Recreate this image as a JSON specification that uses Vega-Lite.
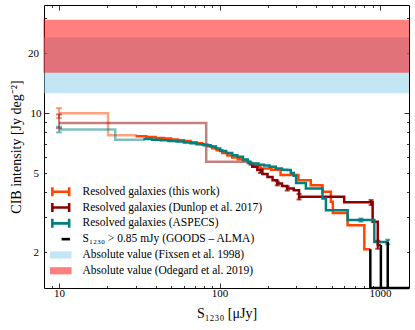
{
  "$schema": "https://vega.github.io/schema/vega-lite/v6.json",
  "width": 365,
  "height": 283,
  "autosize": "none",
  "padding": {"left": 44, "top": 5, "right": 6, "bottom": 42},
  "config": {
    "font": "Liberation Serif",
    "view": {"stroke": "black", "strokeWidth": 1},
    "axis": {
      "domain": false, "grid": false,
      "labelFont": "Liberation Serif", "titleFont": "Liberation Serif",
      "labelFontSize": 11, "titleFontSize": 14, "titleFontWeight": "normal",
      "labelColor": "black", "titleColor": "black", "tickColor": "black", "tickWidth": 0.8,
      "labelOverlap": false, "labelFlush": false
    }
  },
  "datasets": {
    "bands": [
      {"series": "Absolute value (Fixsen et al. 1998)", "lo": 12.6, "hi": 24.1},
      {"series": "Absolute value (Odegard et al. 2019)", "lo": 16.1, "hi": 29.3}
    ],
    "light": [
      {"series": "Resolved galaxies (this work)", "x": 10, "y": 10.0},
      {"series": "Resolved galaxies (this work)", "x": 20.2, "y": 7.74},
      {"series": "Resolved galaxies (this work)", "x": 30, "y": 7.65},
      {"series": "Resolved galaxies (Dunlop et al. 2017)", "x": 10, "y": 8.93},
      {"series": "Resolved galaxies (Dunlop et al. 2017)", "x": 82.6, "y": 5.69},
      {"series": "Resolved galaxies (Dunlop et al. 2017)", "x": 152, "y": 5.54},
      {"series": "Resolved galaxies (ASPECS)", "x": 10, "y": 8.27},
      {"series": "Resolved galaxies (ASPECS)", "x": 22.4, "y": 7.35},
      {"series": "Resolved galaxies (ASPECS)", "x": 33.5, "y": 7.42}
    ],
    "errlight": [
      {"series": "Resolved galaxies (this work)", "x": 10, "lo": 9.45, "hi": 10.6},
      {"series": "Resolved galaxies (Dunlop et al. 2017)", "x": 10, "lo": 8.4, "hi": 9.85},
      {"series": "Resolved galaxies (ASPECS)", "x": 10, "lo": 8.0, "hi": 8.55}
    ],
    "solid": [
      {"series": "Resolved galaxies (this work)", "x": 30, "y": 7.65},
      {"series": "Resolved galaxies (this work)", "x": 35, "y": 7.58},
      {"series": "Resolved galaxies (this work)", "x": 40, "y": 7.5},
      {"series": "Resolved galaxies (this work)", "x": 45, "y": 7.45},
      {"series": "Resolved galaxies (this work)", "x": 50, "y": 7.38},
      {"series": "Resolved galaxies (this work)", "x": 55, "y": 7.3},
      {"series": "Resolved galaxies (this work)", "x": 60, "y": 7.25},
      {"series": "Resolved galaxies (this work)", "x": 66, "y": 7.15},
      {"series": "Resolved galaxies (this work)", "x": 72, "y": 7.05},
      {"series": "Resolved galaxies (this work)", "x": 78, "y": 6.95},
      {"series": "Resolved galaxies (this work)", "x": 84, "y": 6.82},
      {"series": "Resolved galaxies (this work)", "x": 90, "y": 6.66},
      {"series": "Resolved galaxies (this work)", "x": 96, "y": 6.5},
      {"series": "Resolved galaxies (this work)", "x": 104, "y": 6.3},
      {"series": "Resolved galaxies (this work)", "x": 112, "y": 6.12},
      {"series": "Resolved galaxies (this work)", "x": 120, "y": 5.98},
      {"series": "Resolved galaxies (this work)", "x": 130, "y": 5.86},
      {"series": "Resolved galaxies (this work)", "x": 140, "y": 5.76},
      {"series": "Resolved galaxies (this work)", "x": 150, "y": 5.62},
      {"series": "Resolved galaxies (this work)", "x": 160, "y": 5.46},
      {"series": "Resolved galaxies (this work)", "x": 170, "y": 5.36},
      {"series": "Resolved galaxies (this work)", "x": 180, "y": 5.27},
      {"series": "Resolved galaxies (this work)", "x": 210, "y": 5.2},
      {"series": "Resolved galaxies (this work)", "x": 240, "y": 4.88},
      {"series": "Resolved galaxies (this work)", "x": 310, "y": 4.6},
      {"series": "Resolved galaxies (this work)", "x": 370, "y": 4.34},
      {"series": "Resolved galaxies (this work)", "x": 438, "y": 4.02},
      {"series": "Resolved galaxies (this work)", "x": 494, "y": 3.58},
      {"series": "Resolved galaxies (this work)", "x": 508, "y": 3.15},
      {"series": "Resolved galaxies (this work)", "x": 628, "y": 2.73},
      {"series": "Resolved galaxies (this work)", "x": 798, "y": 2.07},
      {"series": "Resolved galaxies (this work)", "x": 870, "y": 2.07},
      {"series": "Resolved galaxies (Dunlop et al. 2017)", "x": 152, "y": 5.54},
      {"series": "Resolved galaxies (Dunlop et al. 2017)", "x": 160, "y": 5.38},
      {"series": "Resolved galaxies (Dunlop et al. 2017)", "x": 172, "y": 5.17},
      {"series": "Resolved galaxies (Dunlop et al. 2017)", "x": 185, "y": 4.95},
      {"series": "Resolved galaxies (Dunlop et al. 2017)", "x": 199, "y": 4.78},
      {"series": "Resolved galaxies (Dunlop et al. 2017)", "x": 214, "y": 4.6},
      {"series": "Resolved galaxies (Dunlop et al. 2017)", "x": 229, "y": 4.43},
      {"series": "Resolved galaxies (Dunlop et al. 2017)", "x": 245, "y": 4.3},
      {"series": "Resolved galaxies (Dunlop et al. 2017)", "x": 264, "y": 4.18},
      {"series": "Resolved galaxies (Dunlop et al. 2017)", "x": 290, "y": 4.1},
      {"series": "Resolved galaxies (Dunlop et al. 2017)", "x": 313, "y": 3.8},
      {"series": "Resolved galaxies (Dunlop et al. 2017)", "x": 598, "y": 3.56},
      {"series": "Resolved galaxies (Dunlop et al. 2017)", "x": 899, "y": 2.84},
      {"series": "Resolved galaxies (Dunlop et al. 2017)", "x": 968, "y": 2.17},
      {"series": "Resolved galaxies (Dunlop et al. 2017)", "x": 1012, "y": 2.17},
      {"series": "Resolved galaxies (ASPECS)", "x": 33.5, "y": 7.42},
      {"series": "Resolved galaxies (ASPECS)", "x": 38, "y": 7.36},
      {"series": "Resolved galaxies (ASPECS)", "x": 43, "y": 7.3},
      {"series": "Resolved galaxies (ASPECS)", "x": 48, "y": 7.25},
      {"series": "Resolved galaxies (ASPECS)", "x": 54, "y": 7.2},
      {"series": "Resolved galaxies (ASPECS)", "x": 60, "y": 7.12},
      {"series": "Resolved galaxies (ASPECS)", "x": 66, "y": 7.05},
      {"series": "Resolved galaxies (ASPECS)", "x": 72, "y": 6.98},
      {"series": "Resolved galaxies (ASPECS)", "x": 80, "y": 6.9},
      {"series": "Resolved galaxies (ASPECS)", "x": 88, "y": 6.8},
      {"series": "Resolved galaxies (ASPECS)", "x": 95, "y": 6.64},
      {"series": "Resolved galaxies (ASPECS)", "x": 101, "y": 6.45},
      {"series": "Resolved galaxies (ASPECS)", "x": 110, "y": 6.3},
      {"series": "Resolved galaxies (ASPECS)", "x": 120, "y": 6.15},
      {"series": "Resolved galaxies (ASPECS)", "x": 129, "y": 6.03},
      {"series": "Resolved galaxies (ASPECS)", "x": 140, "y": 5.85},
      {"series": "Resolved galaxies (ASPECS)", "x": 150, "y": 5.7},
      {"series": "Resolved galaxies (ASPECS)", "x": 156, "y": 5.58},
      {"series": "Resolved galaxies (ASPECS)", "x": 175, "y": 5.5},
      {"series": "Resolved galaxies (ASPECS)", "x": 189, "y": 5.46},
      {"series": "Resolved galaxies (ASPECS)", "x": 205, "y": 5.38},
      {"series": "Resolved galaxies (ASPECS)", "x": 224, "y": 5.27},
      {"series": "Resolved galaxies (ASPECS)", "x": 245, "y": 5.2},
      {"series": "Resolved galaxies (ASPECS)", "x": 264, "y": 5.17},
      {"series": "Resolved galaxies (ASPECS)", "x": 278, "y": 5.0},
      {"series": "Resolved galaxies (ASPECS)", "x": 290, "y": 4.85},
      {"series": "Resolved galaxies (ASPECS)", "x": 300, "y": 4.45},
      {"series": "Resolved galaxies (ASPECS)", "x": 345, "y": 4.18},
      {"series": "Resolved galaxies (ASPECS)", "x": 438, "y": 3.72},
      {"series": "Resolved galaxies (ASPECS)", "x": 460, "y": 3.25},
      {"series": "Resolved galaxies (ASPECS)", "x": 628, "y": 2.9},
      {"series": "Resolved galaxies (ASPECS)", "x": 921, "y": 2.25},
      {"series": "Resolved galaxies (ASPECS)", "x": 1117, "y": 2.25}
    ],
    "errsolid": [
      {"series": "Resolved galaxies (Dunlop et al. 2017)", "x": 180, "lo": 5.0, "hi": 5.2},
      {"series": "Resolved galaxies (Dunlop et al. 2017)", "x": 229, "lo": 4.33, "hi": 4.53},
      {"series": "Resolved galaxies (Dunlop et al. 2017)", "x": 264, "lo": 4.08, "hi": 4.28},
      {"series": "Resolved galaxies (Dunlop et al. 2017)", "x": 313, "lo": 3.68, "hi": 3.92},
      {"series": "Resolved galaxies (Dunlop et al. 2017)", "x": 880, "lo": 3.45, "hi": 3.66},
      {"series": "Resolved galaxies (Dunlop et al. 2017)", "x": 968, "lo": 2.08, "hi": 2.28},
      {"series": "Resolved galaxies (ASPECS)", "x": 760, "lo": 2.85, "hi": 2.95},
      {"series": "Resolved galaxies (ASPECS)", "x": 1117, "lo": 2.19, "hi": 2.31}
    ],
    "black": [
      {"series": "S₁₂₃₀ > 0.85 mJy (GOODS – ALMA)", "x": 870, "x2": 870, "y": 2.07, "y2": 1.32},
      {"series": "S₁₂₃₀ > 0.85 mJy (GOODS – ALMA)", "x": 1012, "x2": 1012, "y": 2.17, "y2": 1.32},
      {"series": "S₁₂₃₀ > 0.85 mJy (GOODS – ALMA)", "x": 1117, "x2": 1117, "y": 2.25, "y2": 1.32},
      {"series": "S₁₂₃₀ > 0.85 mJy (GOODS – ALMA)", "x": 870, "x2": 1515, "y": 1.32, "y2": 1.32}
    ]
  },
  "encoding": {
    "color": {
      "field": "series", "type": "nominal",
      "scale": {
        "domain": ["Resolved galaxies (this work)", "Resolved galaxies (Dunlop et al. 2017)", "Resolved galaxies (ASPECS)", "S₁₂₃₀ > 0.85 mJy (GOODS – ALMA)", "Absolute value (Fixsen et al. 1998)", "Absolute value (Odegard et al. 2019)"],
        "range": ["#ff4500", "#8b0000", "#008080", "#000000", "#87ceeb", "#ff0000"]
      },
      "legend": {
        "orient": "bottom-left", "offset": 11, "padding": 0, "title": null,
        "labelFont": "Liberation Serif", "labelFontSize": 11.5, "labelColor": "black",
        "symbolSize": 256, "labelOffset": 16, "rowPadding": 2.8, "labelLimit": 300,
        "gridAlign": "all",
        "encode": {
          "symbols": {
            "update": {
              "shape": {"signal": "datum.index < 3 ? 'M-1.05,-0.56V0.56M-1.05,0H1.05M1.05,-0.56V0.56' : (datum.index == 3 ? 'M0.1,0H1.15' : 'M-1.35,-0.45H1.35V0.45H-1.35Z')"},
              "stroke": {"signal": "scale('color', datum.value)"},
              "fill": {"signal": "scale('color', datum.value)"},
              "strokeWidth": {"signal": "datum.index < 4 ? 2.6 : 0"},
              "strokeJoin": {"value": "round"},
              "fillOpacity": {"signal": "datum.index < 4 ? 0 : 0.5"},
              "strokeOpacity": {"value": 1},
              "opacity": {"value": 1}
            }
          }
        }
      }
    }
  },
  "layer": [
    {
      "data": {"name": "bands"},
      "mark": {"type": "rect", "opacity": 0.5, "strokeWidth": 1.2},
      "encoding": {
        "y": {"field": "lo", "type": "quantitative", "scale": {"type": "log", "domain": [1.32, 35], "nice": false}, "axis": null},
        "y2": {"field": "hi"},
        "stroke": {"condition": {"test": "datum.series == 'Absolute value (Odegard et al. 2019)'", "value": "#ff0000"}, "value": null}
      }
    },
    {
      "data": {"name": "light"},
      "mark": {"type": "line", "interpolate": "step-after", "strokeWidth": 2.5, "opacity": 0.5},
      "encoding": {
        "x": {"field": "x", "type": "quantitative", "scale": {"type": "log", "domain": [8.06, 1515], "nice": false}, "axis": null},
        "y": {"field": "y", "type": "quantitative", "scale": {"type": "log", "domain": [1.32, 35], "nice": false}, "axis": null}
      }
    },
    {
      "data": {"name": "errlight"},
      "mark": {"type": "errorbar", "ticks": {"size": 6}, "thickness": 2, "opacity": 0.5},
      "encoding": {
        "x": {"field": "x", "type": "quantitative", "scale": {"type": "log", "domain": [8.06, 1515], "nice": false}, "axis": null},
        "y": {"field": "lo", "type": "quantitative", "scale": {"type": "log", "domain": [1.32, 35], "nice": false}, "axis": null},
        "y2": {"field": "hi"}
      }
    },
    {
      "data": {"name": "solid"},
      "mark": {"type": "line", "interpolate": "step-after", "strokeWidth": 2.5},
      "encoding": {
        "x": {
          "field": "x", "type": "quantitative",
          "scale": {"type": "log", "domain": [8.06, 1515], "nice": false},
          "axis": {
            "orient": "bottom", "title": "S₁₂₃₀ [μJy]", "format": "d",
            "values": [9, 10, 20, 30, 40, 50, 60, 70, 80, 90, 100, 200, 300, 400, 500, 600, 700, 800, 900, 1000],
            "labelExpr": "(datum.value == 10 || datum.value == 100 || datum.value == 1000) ? datum.label : ''",
            "tickSize": {"condition": {"test": "datum.value == 10 || datum.value == 100 || datum.value == 1000", "value": -5}, "value": -2.5},
            "labelPadding": 4, "titlePadding": 6
          }
        },
        "y": {
          "field": "y", "type": "quantitative",
          "scale": {"type": "log", "domain": [1.32, 35], "nice": false},
          "axis": {
            "orient": "left", "title": "CIB intensity [Jy deg⁻²]", "format": "d",
            "values": [2, 3, 4, 5, 6, 7, 8, 9, 10, 20, 30],
            "labelExpr": "(datum.value == 2 || datum.value == 5 || datum.value == 10 || datum.value == 20) ? datum.label : ''",
            "tickSize": {"condition": {"test": "datum.value == 10", "value": -5}, "value": -2.5},
            "labelPadding": 8, "titlePadding": 4
          }
        }
      }
    },
    {
      "data": {"name": "errsolid"},
      "mark": {"type": "errorbar", "ticks": {"size": 5}, "thickness": 2},
      "encoding": {
        "x": {"field": "x", "type": "quantitative", "scale": {"type": "log", "domain": [8.06, 1515], "nice": false}, "axis": null},
        "y": {"field": "lo", "type": "quantitative", "scale": {"type": "log", "domain": [1.32, 35], "nice": false}, "axis": null},
        "y2": {"field": "hi"}
      }
    },
    {
      "data": {"name": "black"},
      "mark": {"type": "rule", "strokeWidth": 2.5},
      "encoding": {
        "x": {
          "field": "x", "type": "quantitative",
          "scale": {"type": "log", "domain": [8.06, 1515], "nice": false},
          "axis": {
            "orient": "top", "title": null, "labels": false,
            "values": [9, 10, 20, 30, 40, 50, 60, 70, 80, 90, 100, 200, 300, 400, 500, 600, 700, 800, 900, 1000],
            "tickSize": {"condition": {"test": "datum.value == 10 || datum.value == 100 || datum.value == 1000", "value": -5}, "value": -2.5}
          }
        },
        "x2": {"field": "x2"},
        "y": {
          "field": "y", "type": "quantitative",
          "scale": {"type": "log", "domain": [1.32, 35], "nice": false},
          "axis": {
            "orient": "right", "title": null, "labels": false,
            "values": [2, 3, 4, 5, 6, 7, 8, 9, 10, 20, 30],
            "tickSize": {"condition": {"test": "datum.value == 10", "value": -5}, "value": -2.5}
          }
        },
        "y2": {"field": "y2"}
      }
    }
  ],
  "resolve": {"axis": {"x": "independent", "y": "independent"}}
}
